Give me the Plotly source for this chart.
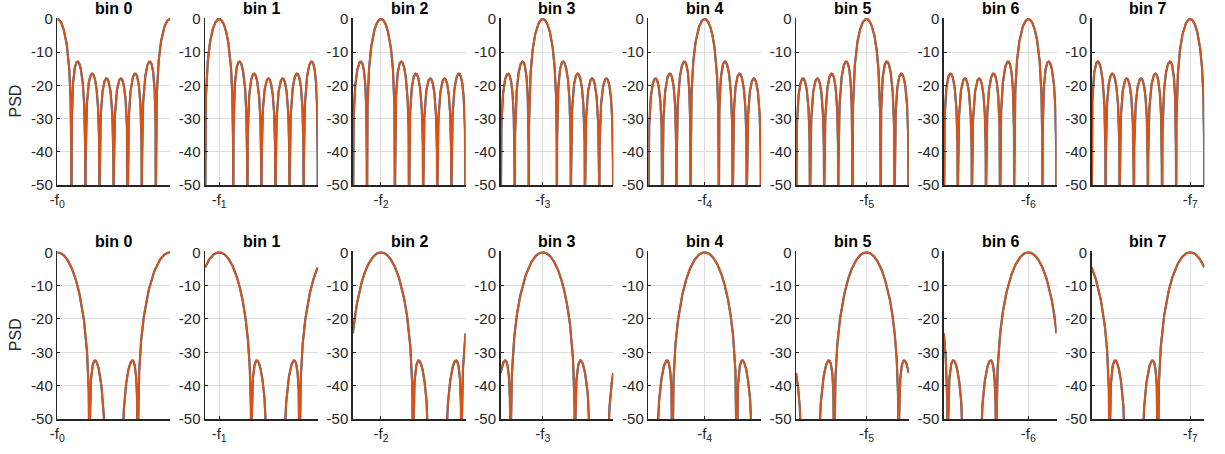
import numpy as np
import plotly.graph_objects as go

# ---- data ----
bins = [0, 1, 2, 3, 4, 5, 6, 7]
titles = ["bin 0", "bin 1", "bin 2", "bin 3", "bin 4", "bin 5", "bin 6", "bin 7"]
tick_labels = ["-f<sub>0</sub>", "-f<sub>1</sub>", "-f<sub>2</sub>", "-f<sub>3</sub>",
               "-f<sub>4</sub>", "-f<sub>5</sub>", "-f<sub>6</sub>", "-f<sub>7</sub>"]
# analysis windows of the 8-bin DFT filter bank (top row, bottom row)
window_rect = [1.0, 1.0, 1.0, 1.0, 1.0, 1.0, 1.0, 1.0]
window_hann = [0.0, 0.1883, 0.6113, 0.9505, 0.9505, 0.6113, 0.1883, 0.0]
y_ticks = [-50, -40, -30, -20, -10, 0]

W, H = 1225, 454
N = len(bins)
OVS = 256  # samples per bin


def response(win, k):
    w = np.asarray(win, dtype=float)
    n = np.arange(len(w))
    h = w * np.exp(2j * np.pi * k * n / N)
    M = N * OVS
    spec = np.fft.fft(h, M)
    spec = np.append(spec, spec[0])
    mag = np.abs(spec) / np.sum(w)
    db = 20 * np.log10(np.maximum(mag, 1e-6))
    db = np.maximum(db, -70)
    x = np.arange(M + 1) / OVS
    return x, db


fig = go.Figure()

left0, step, pw = 57.3, 147.75, 112.7
rows = [(18.0, 185.0), (251.3, 419.0)]  # pixel top, bottom
windows = [window_rect, window_hann]

axis_font = dict(family="Liberation Sans, Arial, sans-serif", size=15, color="#262626")
idx = 0
for r, (ptop, pbot) in enumerate(rows):
    for c, k in enumerate(bins):
        idx += 1
        xa = "x" if idx == 1 else f"x{idx}"
        ya = "y" if idx == 1 else f"y{idx}"
        xl = "xaxis" if idx == 1 else f"xaxis{idx}"
        yl = "yaxis" if idx == 1 else f"yaxis{idx}"
        x, db = response(windows[r], k)
        fig.add_trace(go.Scatter(x=x, y=db, mode="lines", xaxis=xa, yaxis=ya,
                                 line=dict(color="#0072BD", width=2.2), hoverinfo="skip",
                                 showlegend=False))
        fig.add_trace(go.Scatter(x=x, y=db, mode="lines", xaxis=xa, yaxis=ya,
                                 line=dict(color="#D95319", width=2), hoverinfo="skip",
                                 showlegend=False))
        xl0 = left0 + step * c
        fig.layout[xl] = dict(domain=[xl0 / W, (xl0 + pw) / W], range=[0, 8], anchor=ya,
                              automargin=False,
                              tickvals=[k], ticktext=[tick_labels[c]], showgrid=True,
                              gridcolor="#DEDEDE", gridwidth=1, zeroline=False,
                              showline=True, linecolor="#262626", linewidth=1.5,
                              ticks="inside", ticklen=3, tickcolor="#262626",
                              tickfont=axis_font, fixedrange=True)
        fig.layout[yl] = dict(domain=[(H - pbot) / H, (H - ptop) / H], range=[-50, 0.3],
                              anchor=xa, automargin=False,
                              tickvals=y_ticks, ticktext=[str(v) for v in y_ticks],
                              showgrid=True, gridcolor="#DEDEDE", gridwidth=1, zeroline=False,
                              showline=True, linecolor="#262626", linewidth=1.5,
                              ticks="inside", ticklen=3, tickcolor="#262626",
                              tickfont=axis_font, fixedrange=True)
        fig.add_annotation(text=f"<b>{titles[c]}</b>", x=(xl0 + pw / 2) / W,
                           y=(H - (ptop - 10)) / H, xref="paper", yref="paper",
                           showarrow=False, xanchor="center", yanchor="middle",
                           font=dict(family="Liberation Sans, Arial, sans-serif", size=16,
                                     color="#000000"))
    fig.add_annotation(text="PSD", x=15 / W, y=(H - (ptop + pbot) / 2) / H,
                       xref="paper", yref="paper", showarrow=False, textangle=-90,
                       xanchor="center", yanchor="middle",
                       font=dict(family="Liberation Sans, Arial, sans-serif", size=16,
                                 color="#262626"))

fig.update_layout(width=W, height=H, margin=dict(l=0, r=0, t=0, b=0, autoexpand=False),
                  paper_bgcolor="white", plot_bgcolor="white", showlegend=False)

fig.write_html("out.html", config={"displayModeBar": False, "staticPlot": True},
               post_script="document.body.style.margin='0px';"
                           "document.body.style.overflow='hidden';")
